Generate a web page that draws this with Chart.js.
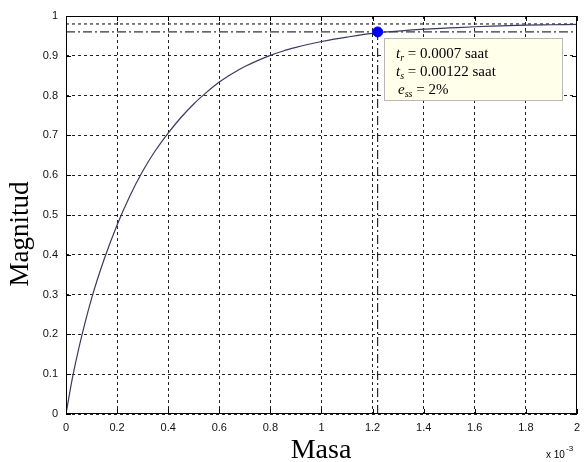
<!DOCTYPE html>
<html>
<head>
<meta charset="utf-8">
<script src="https://cdn.jsdelivr.net/npm/chart.js@4.4.1/dist/chart.umd.min.js"></script>
<style>
  html, body { margin: 0; padding: 0; background: #ffffff; }
  #wrap { width: 587px; height: 462px; }
</style>
</head>
<body>
<div id="wrap"><canvas id="c" width="587" height="462"></canvas></div>
<script>
// ---- data (x in units of 10^-3 s) ----
const timeValues = [0, 0.025, 0.05, 0.1, 0.15, 0.2, 0.25, 0.3, 0.35, 0.4, 0.45, 0.5, 0.55, 0.6, 0.65, 0.7, 0.75, 0.8, 0.85, 0.9, 0.95, 1.0, 1.1, 1.22, 1.3, 1.4, 1.5, 1.6, 1.7, 1.8, 1.9, 2.0];
const magnitudeValues = [0, 0.09, 0.165, 0.29, 0.39, 0.475, 0.548, 0.61, 0.662, 0.706, 0.745, 0.779, 0.808, 0.834, 0.855, 0.873, 0.888, 0.901, 0.912, 0.921, 0.929, 0.936, 0.947, 0.958, 0.962, 0.967, 0.97, 0.973, 0.975, 0.977, 0.978, 0.979];
const finalBandY = 0.98;
const settleBandY = 0.96;
const settleX = 1.22;
const bandX = [0, 2];
const xTickValues = [0, 0.2, 0.4, 0.6, 0.8, 1, 1.2, 1.4, 1.6, 1.8, 2];
const yTickValues = [0, 0.1, 0.2, 0.3, 0.4, 0.5, 0.6, 0.7, 0.8, 0.9, 1];
const infoLines = [
  { sym: 't', sub: 'r', rest: ' = 0.0007 saat' },
  { sym: 't', sub: 's', rest: ' = 0.00122 saat' },
  { sym: 'e', sub: 'ss', rest: ' = 2%' }
];
const xTitle = 'Masa';
const yTitle = 'Magnitud';

const curve = timeValues.map((x, i) => ({ x: x, y: magnitudeValues[i] }));

const framePlugin = {
  id: 'frame',
  afterDatasetsDraw(chart) {
    const { ctx, scales } = chart;
    const xs = scales.x, ys = scales.y;
    ctx.save();
    // info box
    const bx = Math.round(xs.getPixelForValue(settleX)) + 6;
    const by = Math.round(ys.getPixelForValue(settleBandY)) + 6;
    const bw = 178, bh = 62;
    ctx.fillStyle = '#ffffea';
    ctx.fillRect(bx, by, bw, bh);
    ctx.strokeStyle = '#b8b8b8';
    ctx.lineWidth = 1;
    ctx.strokeRect(bx + 0.5, by + 0.5, bw, bh);
    ctx.fillStyle = '#000';
    ctx.textBaseline = 'alphabetic';
    infoLines.forEach((ln, i) => {
      let x = bx + 12 + (i === 2 ? 2 : 0);
      const y = by + 20 + i * 18;
      ctx.font = 'italic 15px "Liberation Serif"';
      ctx.fillText(ln.sym, x, y);
      x += ctx.measureText(ln.sym).width;
      ctx.font = 'italic 10px "Liberation Serif"';
      ctx.fillText(ln.sub, x, y + 3);
      x += ctx.measureText(ln.sub).width;
      ctx.font = '15px "Liberation Serif"';
      ctx.fillText(ln.rest, x, y);
    });
    ctx.restore();
  },
  afterDraw(chart) {
    const { ctx, chartArea: a, scales } = chart;
    const xs = scales.x, ys = scales.y;
    ctx.save();
    ctx.strokeStyle = '#000';
    ctx.lineWidth = 1;
    ctx.setLineDash([]);
    ctx.beginPath();
    ctx.rect(Math.round(a.left) + 0.5, Math.round(a.top) + 0.5, Math.round(a.right - a.left) - 1, Math.round(a.bottom - a.top) - 1);
    ctx.stroke();
    // inside ticks
    ctx.beginPath();
    xTickValues.forEach(v => {
      const px = Math.round(xs.getPixelForValue(v)) + 0.5;
      ctx.moveTo(px, a.bottom); ctx.lineTo(px, a.bottom - 5);
      ctx.moveTo(px, a.top); ctx.lineTo(px, a.top + 5);
    });
    yTickValues.forEach(v => {
      const py = Math.round(ys.getPixelForValue(v)) + 0.5;
      ctx.moveTo(a.left, py); ctx.lineTo(a.left + 5, py);
      ctx.moveTo(a.right, py); ctx.lineTo(a.right - 5, py);
    });
    ctx.stroke();
    // axis titles
    ctx.fillStyle = '#000';
    ctx.font = '28px "Liberation Serif"';
    ctx.textAlign = 'center';
    ctx.textBaseline = 'alphabetic';
    ctx.fillText(xTitle, 321, 458);
    ctx.save();
    ctx.translate(28, 234);
    ctx.rotate(-Math.PI / 2);
    ctx.font = '27px "Liberation Serif"';
    ctx.fillText(yTitle, 0, 0);
    ctx.restore();
    // exponent
    ctx.textAlign = 'left';
    ctx.font = '10px "Liberation Sans"';
    ctx.fillText('x 10', 546, 458);
    ctx.font = '8px "Liberation Sans"';
    ctx.fillText('-3', 566, 451);
    ctx.restore();
  }
};

new Chart(document.getElementById('c'), {
  type: 'scatter',
  data: {
    datasets: [
      {
        label: 'final',
        data: bandX.map(x => ({ x: x, y: finalBandY })),
        showLine: true, borderColor: '#000', borderWidth: 1, borderDash: [3, 3],
        pointRadius: 0, order: 3
      },
      {
        label: 'settle-h',
        data: bandX.map(x => ({ x: x, y: settleBandY })),
        showLine: true, borderColor: '#000', borderWidth: 1, borderDash: [9, 3, 2, 3],
        pointRadius: 0, order: 3
      },
      {
        label: 'settle-v',
        data: [{ x: settleX, y: 0 }, { x: settleX, y: settleBandY }],
        showLine: true, borderColor: '#000', borderWidth: 1, borderDash: [9, 3, 2, 3],
        pointRadius: 0, order: 3
      },
      {
        label: 'response',
        data: curve,
        showLine: true, borderColor: '#3a3a60', borderWidth: 1.2,
        pointRadius: 0, cubicInterpolationMode: 'monotone', order: 2
      },
      {
        label: 'settle point',
        data: [{ x: settleX, y: settleBandY }],
        showLine: false, pointRadius: 5, pointBackgroundColor: '#0000ff', pointBorderColor: '#0000ff',
        order: 1
      }
    ]
  },
  options: {
    responsive: false,
    animation: false,
    layout: { padding: { top: 16, right: 1, left: 0, bottom: 0 } },
    plugins: { legend: { display: false }, tooltip: { enabled: false } },
    scales: {
      x: {
        type: 'linear', min: 0, max: 2,
        afterBuildTicks: s => { s.ticks = xTickValues.map(v => ({ value: v })); },
        afterFit: s => { s.height = 48; },
        grid: { color: '#222', lineWidth: 1, drawTicks: false },
        border: { display: false, dash: [3, 3] },
        ticks: {
          padding: 7, color: '#111',
          font: { family: 'Liberation Sans', size: 11 },
          maxRotation: 0,
          callback: v => String(Math.round(v * 10) / 10)
        }
      },
      y: {
        type: 'linear', min: 0, max: 1,
        afterBuildTicks: s => { s.ticks = yTickValues.map(v => ({ value: v })); },
        afterFit: s => { s.width = 66; },
        grid: { color: '#222', lineWidth: 1, drawTicks: false },
        border: { display: false, dash: [3, 3] },
        ticks: {
          padding: 8, color: '#111',
          font: { family: 'Liberation Sans', size: 11 },
          callback: v => String(Math.round(v * 10) / 10)
        }
      }
    }
  },
  plugins: [framePlugin]
});
</script>
</body>
</html>
